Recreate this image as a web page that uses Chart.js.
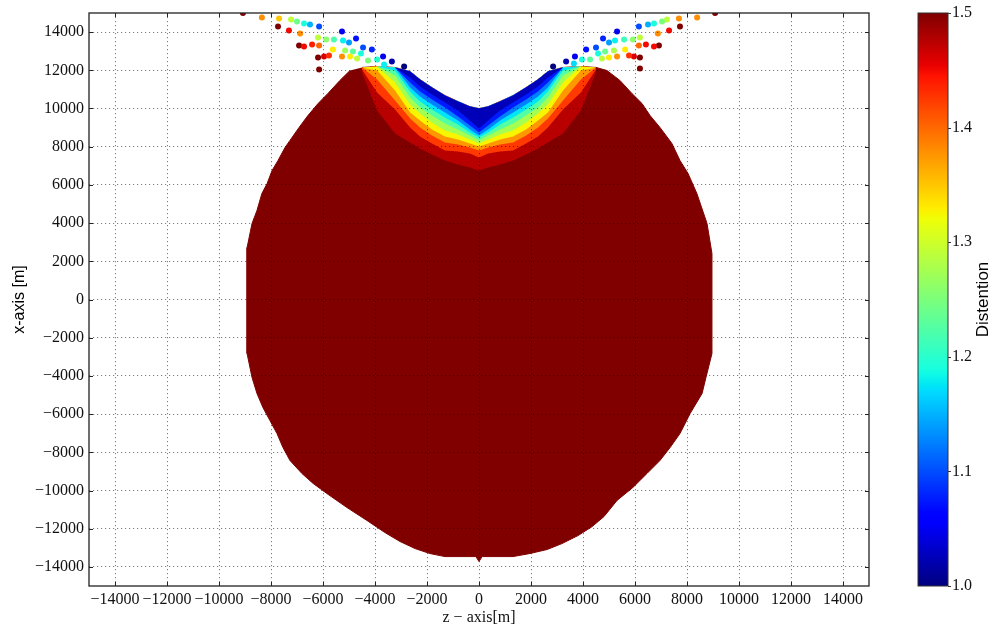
<!DOCTYPE html>
<html>
<head>
<meta charset="utf-8">
<script src="https://cdn.jsdelivr.net/npm/chart.js@4/dist/chart.umd.min.js"></script>
<style>
  html, body { margin: 0; padding: 0; background: #fff; }
  #wrap { width: 992px; height: 630px; position: relative; }
</style>
</head>
<body>
<div id="wrap"><canvas id="c" width="992" height="630"></canvas></div>
<script>
// ---- axis ticks (metres) and colour-bar ticks ----
const axisTicks = [-14000, -12000, -10000, -8000, -6000, -4000, -2000, 0,
                   2000, 4000, 6000, 8000, 10000, 12000, 14000];
const colorbarTicks = [1.0, 1.1, 1.2, 1.3, 1.4, 1.5];
const D_MIN = 1.0, D_MAX = 1.5;

// ---- outer edge of the body, from the left shoulder round the bottom to the right shoulder ----
const outlineZ = [-4960, -5350, -5810, -6190, -6580, -6920, -7270, -7460, -7730, -7960,
                  -8150, -8350, -8540, -8730, -8920, -8920, -8730, -8540, -8310, -8040,
                  -7770, -7540, -7270, -6810, -6380, -5850, -5080, -4310, -3620, -3040,
                  -2460, -1890, -1310, -120, 0, 120, 1310, 1960, 2620, 3190,
                  3810, 4350, 4810, 5310, 5920, 6460, 6960, 7350, 7730, 8120,
                  8580, 8730, 8960, 8960, 8770, 8380, 8040, 7730, 7420, 6960,
                  6580, 6270, 5880, 5420, 4920];
const outlineX = [11990, 11470, 10790, 10260, 9630, 9010, 8330, 7960, 7280, 6750,
                  6070, 5550, 4660, 3980, 2720, -2830, -4080, -4920, -5660, -6340,
                  -7020, -7750, -8430, -9110, -9630, -10160, -10890, -11570, -12200, -12670,
                  -13040, -13300, -13460, -13460, -13720, -13460, -13460, -13300, -13090, -12780,
                  -12360, -11890, -11360, -10520, -9840, -9110, -8430, -7750, -7020, -5970,
                  -4920, -4080, -2830, 2410, 3980, 5550, 6600, 7280, 8170, 9010,
                  9630, 10260, 10790, 11470, 11990];

// ---- notch at the top: sample columns, upper edge and distention contours ----
const notchZ   = [-4500, -3920, -3230, -2650, -2270, -1810, -1310, -810, -350, 0,
                  350, 810, 1310, 1810, 2270, 2650, 3230, 3920, 4500];
const notchTop = [12150, 12200, 12150, 11940, 11520, 11100, 10680, 10370, 10100, 10000,
                  10100, 10370, 10680, 11100, 11520, 11940, 12150, 12200, 12150];
const contourLevels = [1.05, 1.10, 1.15, 1.20, 1.25, 1.30, 1.35, 1.40, 1.45, 1.50];
const contour105 = [12150, 12200, 12150, 11620, 11150, 10730, 10310, 9900, 9370, 8950, 9370, 9900, 10310, 10730, 11150, 11620, 12150, 12200, 12150];
const contour110 = [12150, 12200, 12150, 11360, 10890, 10470, 10050, 9580, 9110, 8740, 9110, 9580, 10050, 10470, 10890, 11360, 12150, 12200, 12150];
const contour115 = [12150, 12200, 12150, 11100, 10630, 10210, 9790, 9370, 8900, 8590, 8900, 9370, 9790, 10210, 10630, 11100, 12150, 12200, 12150];
const contour120 = [12150, 12200, 11990, 10890, 10370, 9950, 9530, 9160, 8740, 8480, 8740, 9160, 9530, 9950, 10370, 10890, 11990, 12200, 12150];
const contour125 = [12150, 12200, 11730, 10580, 10050, 9630, 9220, 8900, 8590, 8330, 8590, 8900, 9220, 9630, 10050, 10580, 11730, 12200, 12150];
const contour130 = [12150, 12200, 11360, 10210, 9740, 9270, 8850, 8640, 8380, 8170, 8380, 8640, 8850, 9270, 9740, 10210, 11360, 12200, 12150];
const contour135 = [12150, 11990, 10940, 9790, 9370, 8900, 8530, 8380, 8170, 8010, 8170, 8380, 8530, 8900, 9370, 9790, 10940, 11990, 12150];
const contour140 = [12150, 11520, 10420, 9480, 9010, 8590, 8220, 8120, 7960, 7800, 7960, 8120, 8220, 8590, 9010, 9480, 10420, 11520, 12150];
const contour145 = [12040, 10840, 9950, 9010, 8530, 8170, 7800, 7750, 7640, 7440, 7640, 7750, 7800, 8170, 8530, 9010, 9950, 10840, 12040];
const contour150 = [11890, 9900, 8690, 8220, 7910, 7590, 7280, 7070, 6910, 6750, 6910, 7070, 7280, 7590, 7910, 8220, 8690, 9900, 11890];
const contourLines = [contour105, contour110, contour115, contour120, contour125,
                      contour130, contour135, contour140, contour145, contour150];

// ---- ejected particles above the body: position (z, x) and distention ----
const particleZ = [
  -9080, -8350, -7690, -7230, -7000, -6730, -6500, -6150, -7730, -7310,
  -6880, -6190, -5880, -5580, -5270, -5230, -5000, -4730, -6920, -6730,
  -6420, -6150, -5620, -5150, -4850, -4540, -4460, -4120, -3690, -3350,
  -2880, -6190, -5960, -5770, -5270, -4960, -4690, -4270, -3920, -3650, -6150,
  9080, 8390, 7690, 7230, 7040, 6730, 6500, 6150, 7730, 7310,
  6880, 6190, 5920, 5580, 5310, 5230, 5000, 4770, 6920, 6730,
  6420, 6150, 5620, 5190, 4850, 4580, 4500, 4120, 3690, 3350,
  2850, 6190, 5960, 5770, 5310, 5000, 4730, 4270, 3960, 3650, 6190];
const particleX = [
  15000, 14770, 14710, 14660, 14560, 14450, 14400, 14290, 14290, 14090,
  13930, 13720, 13610, 13610, 14030, 13560, 13460, 13670, 13300, 13250,
  13350, 13300, 13090, 13040, 12990, 12880, 13200, 13090, 12720, 12460,
  12200, 12670, 12720, 12780, 12720, 12720, 12620, 12510, 12570, 12310, 12040,
  15000, 14770, 14710, 14660, 14560, 14450, 14400, 14290, 14290, 14090,
  13930, 13720, 13610, 13610, 14030, 13560, 13460, 13670, 13300, 13250,
  13350, 13300, 13090, 13040, 12990, 12880, 13200, 13090, 12720, 12460,
  12200, 12670, 12720, 12780, 12720, 12670, 12620, 12570, 12570, 12360, 12100];
const particleD = [
  1.50, 1.38, 1.35, 1.29, 1.24, 1.19, 1.15, 1.10, 1.50, 1.45,
  1.38, 1.29, 1.26, 1.22, 1.05, 1.18, 1.14, 1.07, 1.50, 1.45,
  1.44, 1.40, 1.33, 1.27, 1.23, 1.19, 1.10, 1.08, 1.05, 1.02,
  1.00, 1.50, 1.46, 1.43, 1.38, 1.33, 1.29, 1.25, 1.20, 1.18, 1.50,
  1.50, 1.38, 1.38, 1.29, 1.25, 1.19, 1.15, 1.10, 1.50, 1.45,
  1.38, 1.29, 1.26, 1.21, 1.05, 1.18, 1.14, 1.08, 1.50, 1.45,
  1.45, 1.40, 1.33, 1.28, 1.24, 1.19, 1.10, 1.07, 1.05, 1.02,
  1.00, 1.50, 1.46, 1.43, 1.38, 1.33, 1.29, 1.23, 1.19, 1.17, 1.50];

// ---- jet colour map ----
const jetR = [[0, 0], [0.35, 0], [0.66, 1], [0.89, 1], [1, 0.5]];
const jetG = [[0, 0], [0.125, 0], [0.375, 1], [0.64, 1], [0.91, 0], [1, 0]];
const jetB = [[0, 0.5], [0.11, 1], [0.34, 1], [0.65, 0], [1, 0]];
function channel(pts, t) {
  for (let i = 1; i < pts.length; i++) {
    if (t <= pts[i][0]) {
      const [t0, v0] = pts[i - 1], [t1, v1] = pts[i];
      return v0 + (v1 - v0) * (t - t0) / (t1 - t0);
    }
  }
  return pts[pts.length - 1][1];
}
function jet(d) {
  const t = Math.min(1, Math.max(0, (d - D_MIN) / (D_MAX - D_MIN)));
  const c = p => Math.round(255 * channel(p, t));
  return `rgb(${c(jetR)},${c(jetG)},${c(jetB)})`;
}

const SERIF = '"Liberation Serif", "DejaVu Serif", serif';
const SANS = '"Liberation Sans", Arial, sans-serif';
const fmtAxis = v => (v < 0 ? '\u2212' + Math.abs(v) : String(v));

// ---- datasets ----
const datasets = [];
datasets.push({
  label: 'particles',
  data: particleZ.map((z, i) => ({ x: z, y: particleX[i] })),
  backgroundColor: particleD.map(jet),
  pointRadius: 3,
  pointBorderWidth: 0,
  borderWidth: 0,
  showLine: false,
  clip: 0,
  order: 0
});
contourLines.forEach((line, k) => {
  const lower = k === 0 ? D_MIN : contourLevels[k - 1];
  const mid = (lower + contourLevels[k]) / 2;
  const upper = notchZ.map((z, i) => ({ x: z, y: notchTop[i] }));
  const lowerEdge = notchZ.map((z, i) => ({ x: z, y: line[i] })).reverse();
  datasets.push({
    label: 'band ' + contourLevels[k],
    data: upper.concat(lowerEdge),
    showLine: true,
    fill: 'shape',
    backgroundColor: jet(mid),
    borderColor: 'rgba(0,0,0,0)',
    borderWidth: 0,
    pointRadius: 0,
    order: k + 1
  });
});
const bodyEdge = outlineZ.map((z, i) => ({ x: z, y: outlineX[i] }))
  .concat(notchZ.map((z, i) => ({ x: z, y: notchTop[i] })).reverse());
datasets.push({
  label: 'body',
  data: bodyEdge,
  showLine: true,
  fill: 'shape',
  backgroundColor: jet(D_MAX),
  borderColor: jet(D_MAX),
  borderWidth: 1,
  pointRadius: 0,
  order: 50
});

// ---- frame, inward tick marks, colour bar ----
const framePlugin = {
  id: 'frameAndColorbar',
  afterDraw(chart) {
    const { ctx, chartArea: a, scales } = chart;
    ctx.save();
    ctx.strokeStyle = '#222';
    ctx.lineWidth = 1;
    ctx.beginPath();
    axisTicks.forEach(v => {
      const px = Math.round(scales.x.getPixelForValue(v)) + 0.5;
      ctx.moveTo(px, a.bottom); ctx.lineTo(px, a.bottom - 4);
      ctx.moveTo(px, a.top); ctx.lineTo(px, a.top + 4);
      const py = Math.round(scales.y.getPixelForValue(v)) + 0.5;
      ctx.moveTo(a.left, py); ctx.lineTo(a.left + 4, py);
      ctx.moveTo(a.right, py); ctx.lineTo(a.right - 4, py);
    });
    ctx.stroke();
    ctx.lineWidth = 1.3;
    ctx.strokeRect(a.left, a.top, a.right - a.left, a.bottom - a.top);

    const cb = scales.cb;
    const x0 = a.right + 49, w = 30;
    const yTop = cb.getPixelForValue(D_MAX), yBot = cb.getPixelForValue(D_MIN);
    const g = ctx.createLinearGradient(0, yBot, 0, yTop);
    for (let i = 0; i <= 100; i++) {
      const t = i / 100;
      g.addColorStop(t, jet(D_MIN + t * (D_MAX - D_MIN)));
    }
    ctx.fillStyle = g;
    ctx.fillRect(x0, yTop, w, yBot - yTop);
    ctx.lineWidth = 1;
    ctx.strokeStyle = '#333';
    ctx.strokeRect(x0, yTop, w, yBot - yTop);
    ctx.beginPath();
    colorbarTicks.forEach(v => {
      const py = Math.round(cb.getPixelForValue(v)) + 0.5;
      ctx.moveTo(x0 + w, py); ctx.lineTo(x0 + w + 3, py);
    });
    ctx.stroke();

    ctx.translate(a.right + 114, (yTop + yBot) / 2);
    ctx.rotate(-Math.PI / 2);
    ctx.textAlign = 'center';
    ctx.textBaseline = 'middle';
    ctx.font = '17px ' + SANS;
    ctx.fillStyle = '#000';
    ctx.fillText('Distention', 0, 0);
    ctx.restore();
  }
};

const tickFont = { family: SERIF, size: 16 };
const gridStyle = { color: 'rgba(0,0,0,0.5)', lineWidth: 1, drawTicks: false, z: 1 };
const borderStyle = { display: false, dash: [1.2, 2.8] };

new Chart(document.getElementById('c'), {
  type: 'scatter',
  data: { datasets },
  options: {
    responsive: false,
    animation: false,
    events: [],
    devicePixelRatio: 1,
    layout: { padding: { top: 13, right: 0, bottom: 0, left: 0 } },
    plugins: { legend: { display: false }, tooltip: { enabled: false } },
    scales: {
      x: {
        type: 'linear', min: -15000, max: 15000,
        afterBuildTicks: s => { s.ticks = axisTicks.map(v => ({ value: v })); },
        afterFit: s => { s.height = 44; s.paddingLeft = 0; s.paddingRight = 0; },
        grid: gridStyle,
        border: borderStyle,
        ticks: { padding: 4, color: '#111', font: tickFont, callback: fmtAxis,
                 maxRotation: 0, autoSkip: false, z: 1 },
        title: { display: true, text: 'z \u2212 axis[m]', color: '#111',
                 font: { family: SERIF, size: 16 }, padding: { top: 0, bottom: 3 } }
      },
      y: {
        type: 'linear', min: -15000, max: 15000,
        afterBuildTicks: s => { s.ticks = axisTicks.map(v => ({ value: v })); },
        afterFit: s => { s.width = 89; s.paddingTop = 0; s.paddingBottom = 0; },
        grid: gridStyle,
        border: borderStyle,
        ticks: { padding: 5, color: '#111', font: tickFont, callback: fmtAxis,
                 autoSkip: false, z: 1 },
        title: { display: true, text: 'x-axis [m]', color: '#000',
                 font: { family: SANS, size: 16 }, padding: { top: 10, bottom: 0 } }
      },
      cb: {
        type: 'linear', axis: 'y', position: 'right', min: D_MIN, max: D_MAX,
        afterBuildTicks: s => { s.ticks = colorbarTicks.map(v => ({ value: v })); },
        afterFit: s => { s.width = 123; s.paddingTop = 0; s.paddingBottom = 0; },
        grid: { display: false, drawTicks: false },
        border: { display: false },
        ticks: { padding: 83, color: '#111', font: tickFont, autoSkip: false,
                 callback: v => Number(v).toFixed(1) }
      }
    }
  },
  plugins: [framePlugin]
});
</script>
</body>
</html>
